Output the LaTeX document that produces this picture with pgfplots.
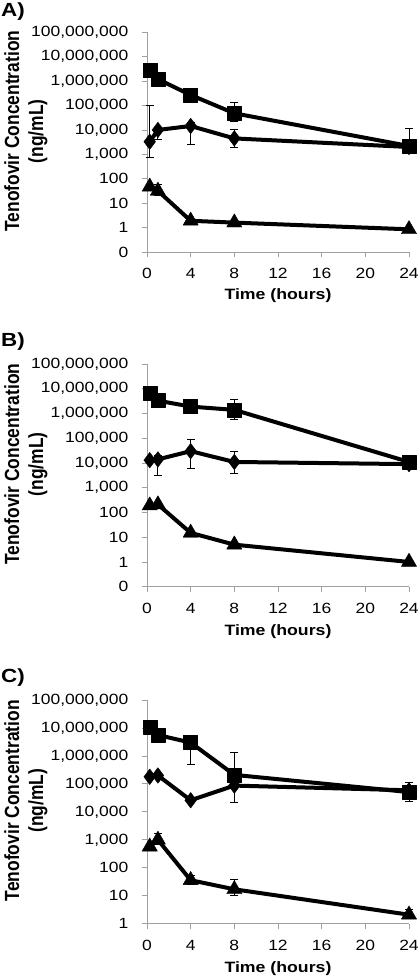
\documentclass[border=0pt]{standalone}
\usepackage{pgfplots}
\pgfplotsset{compat=1.18}
\usepackage{fontspec}
\setmainfont{Liberation Sans}[FakeStretch=1.18]
\newfontfamily\ylabfont{Liberation Sans}[FakeStretch=0.85]
\definecolor{axgray}{HTML}{A0A0A0}

\pgfplotsset{
  tfpanel/.style={
    scale only axis, width=262pt,
    xmin=0, xmax=24,
    axis x line*=bottom, axis y line*=left,
    axis line style={axgray, line width=0.8pt},
    every tick/.style={axgray, line width=0.8pt},
    tick align=outside, major tick length=5pt,
    yminorticks=false,
    xtick={0,4,8,12,16,20,24}, xticklabels={0,4,8,12,16,20,24},
    ticklabel style={font=\fontsize{14.8}{17}\selectfont, inner sep=0pt},
    yticklabel style={anchor=east, xshift=-13.5pt},
    xticklabel style={anchor=north, yshift=-11pt},
    clip=false,
    unbounded coords=jump,
    xlabel={Time (hours)},
    xlabel style={font=\fontsize{15}{18}\selectfont\bfseries, at={(axis description cs:0.5,-0.2)}, anchor=center},
    ylabel={Tenofovir Concentration\\(ng/mL)},
    ylabel style={font=\ylabfont\fontsize{20.5}{24}\selectfont\bfseries, align=center, anchor=center, at={(axis description cs:-0.462,0.55)}},
  },
  tfsq/.style={black, line width=4pt, line join=round, mark=square*, mark size=7pt, mark options={solid, line width=0.4pt}},
  tfdia/.style={black, line width=4pt, line join=round, mark=diamond*, mark size=7.8pt, mark options={solid, line width=0.4pt}},
  tftri/.style={black, line width=4pt, line join=round, mark=triangle*, mark size=8.8pt, mark options={solid, line width=0.4pt}},
  tfeb/.style={black, line width=0.9pt, mark=-, mark size=4pt, mark options={solid}},
}

\begin{document}
\begin{tikzpicture}
\path[use as bounding box] (0pt,0pt) rectangle (420pt,-977pt);

% ---------------- Panel A ----------------
\node[anchor=base west, inner sep=0pt, font=\fontsize{19}{22}\selectfont\bfseries] at (1pt,-16.7pt) {A)};
\begin{axis}[ymode=log, tfpanel, height=219.7pt, at={(147pt,-252pt)}, anchor=south west,
  ymin=0.1, ymax=1e8,
  ytick={0.1,1,10,100,1000,10000,100000,1000000,10000000,100000000},
  yticklabels={0,1,10,100,{1,000},{10,000},{100,000},{1,000,000},{10,000,000},{100,000,000}}]
  \addplot[tfeb] coordinates {(8,2.2e4) (8,1.35e5) (8,nan) (24,1.1e3) (24,1.17e4)};
  \addplot[tfeb] coordinates {(0.25,730) (0.25,1.05e5) (0.25,nan) (1,4.1e3) (1,1.3e4) (1,nan) (4,2.6e3) (4,2.0e4) (4,nan) (8,1.9e3) (8,1.05e4)};
  \addplot[tfeb] coordinates {(1,20) (1,60)};
  \addplot[tfdia] coordinates {(0.25,3.3e3) (1,1.0e4) (4,1.45e4) (8,4.5e3) (24,2.0e3)};
  \addplot[tfsq] coordinates {(0.25,2.7e6) (1,1.2e6) (4,2.7e5) (8,4.8e4) (24,2.2e3)};
  \addplot[tftri] coordinates {(0.25,47) (1,32) (4,1.9) (8,1.6) (24,0.85)};
\end{axis}

% ---------------- Panel B ----------------
\node[anchor=base west, inner sep=0pt, font=\fontsize{19}{22}\selectfont\bfseries] at (1pt,-346.5pt) {B)};
\begin{axis}[ymode=log, tfpanel, height=222.7pt, at={(147pt,-586.7pt)}, anchor=south west,
  ymin=0.1, ymax=1e8,
  ytick={0.1,1,10,100,1000,10000,100000,1000000,10000000,100000000},
  yticklabels={0,1,10,100,{1,000},{10,000},{100,000},{1,000,000},{10,000,000},{100,000,000}}]
  \addplot[tfeb] coordinates {(8,5.6e5) (8,3.7e6)};
  \addplot[tfeb] coordinates {(1,3.1e3) (1,2.0e4) (1,nan) (4,5.9e3) (4,9.3e4) (4,nan) (8,3.9e3) (8,2.8e4)};
  \addplot[tfdia] coordinates {(0.25,1.3e4) (1,1.4e4) (4,3.0e4) (8,1.1e4) (24,9.0e3)};
  \addplot[tfsq] coordinates {(0.25,6.9e6) (1,3.3e6) (4,1.9e6) (8,1.4e6) (24,1.1e4)};
  \addplot[tftri] coordinates {(0.25,190) (1,210) (4,15) (8,5) (24,1.0)};
\end{axis}

% ---------------- Panel C ----------------
\node[anchor=base west, inner sep=0pt, font=\fontsize{19}{22}\selectfont\bfseries] at (1pt,-682pt) {C)};
\begin{axis}[ymode=log, tfpanel, height=223.7pt, at={(147pt,-923.7pt)}, anchor=south west,
  ymin=1, ymax=1e8,
  ytick={1,10,100,1000,10000,100000,1000000,10000000,100000000},
  yticklabels={1,10,100,{1,000},{10,000},{100,000},{1,000,000},{10,000,000},{100,000,000}}]
  \addplot[tfeb] coordinates {(4,4.9e5) (4,5.0e6) (4,nan) (8,1.0e5) (8,1.35e6) (8,nan) (24,2.3e4) (24,1.1e5)};
  \addplot[tfeb] coordinates {(8,2.2e4) (8,2.0e5)};
  \addplot[tfeb] coordinates {(1,700) (1,1700) (1,nan) (4,25) (4,55) (4,nan) (8,10) (8,38) (8,nan) (24,1.5) (24,3.2)};
  \addplot[tfsq] coordinates {(0.25,1.05e7) (1,5.6e6) (4,3.0e6) (8,2.1e5) (24,5.1e4)};
  \addplot[tfdia] coordinates {(0.25,1.8e5) (1,2.0e5) (4,2.6e4) (8,8.7e4) (24,5.9e4)};
  \addplot[tftri] coordinates {(0.25,570) (1,1000) (4,36) (8,17) (24,2.1)};
\end{axis}
\end{tikzpicture}
\end{document}
